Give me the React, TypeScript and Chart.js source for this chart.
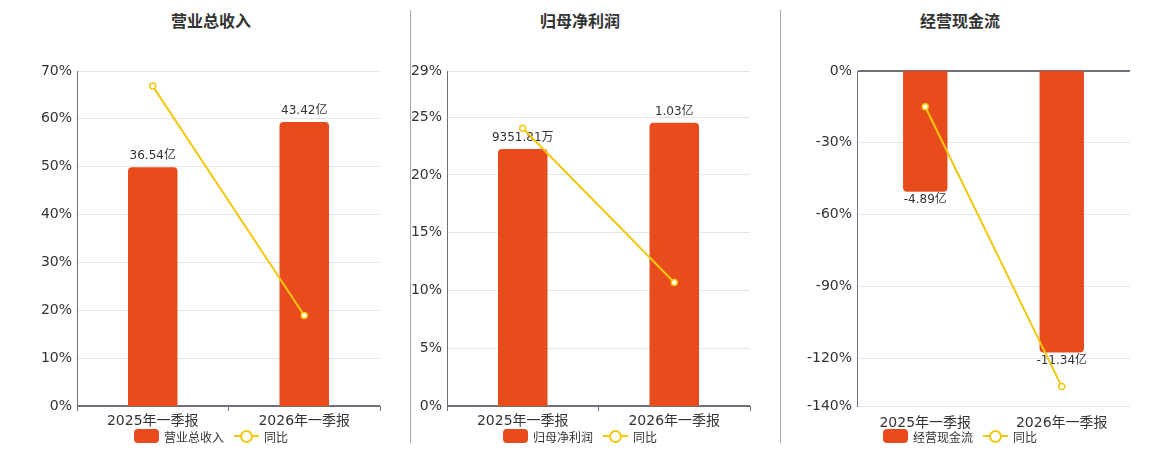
import { useEffect, useRef } from "react";
import { Chart, registerables } from "chart.js";

Chart.register(...registerables);

const FONT = "'DejaVu Sans', 'Noto Sans CJK SC', sans-serif";
const BAR_COLOR = "#E84C1D";
const LINE_COLOR = "#F2C80F";
const AXIS_COLOR = "#6E7079";
const GRID_COLOR = "#E0E6F1";
const TEXT_COLOR = "#333";

Chart.defaults.font.family = FONT;

const categories = ["2025年一季报", "2026年一季报"];

// 营业总收入 (亿)
const revenueValues = [36.54, 43.42];
const revenueLabels = ["36.54亿", "43.42亿"];
const revenueYoy = [66.85, 18.9];
const revenueTicks = [0, 10, 20, 30, 40, 50, 60, 70];

// 归母净利润 (亿)
const profitValues = [0.935181, 1.03];
const profitLabels = ["9351.81万", "1.03亿"];
const profitYoy = [24.05, 10.69];
const profitTicks = [0, 5, 10, 15, 20, 25, 29];

// 经营现金流 (亿)
const cashValues = [-4.89, -11.34];
const cashLabels = ["-4.89亿", "-11.34亿"];
const cashYoy = [-14.95, -131.9];
const cashTicks = [-140, -120, -90, -60, -30, 0];

type PanelProps = {
	title: string;
	seriesName: string;
	values: number[];
	labels: string[];
	yoy: number[];
	ticks: number[];
	barMin: number;
	barMax: number;
	left: number;
	width: number;
	axisWidth: number;
	rightPad: number;
	center: number;
	axisOnTop?: boolean;
};

function Panel(props: PanelProps) {
	const chartRef = useRef<HTMLCanvasElement>(null);
	const chartInstance = useRef<Chart | null>(null);

	useEffect(() => {
		if (!chartRef.current) return;
		if (chartInstance.current) chartInstance.current.destroy();
		const ctx = chartRef.current.getContext("2d");
		if (!ctx) return;

		const barLabelPlugin = {
			id: "barLabels",
			afterDatasetDraw(chart: Chart, args: { index: number }) {
				if (args.index !== 0) return;
				const c = chart.ctx;
				const meta = chart.getDatasetMeta(0);
				c.save();
				c.font = `12px ${FONT}`;
				c.fillStyle = TEXT_COLOR;
				c.textAlign = "center";
				meta.data.forEach((el: any, i: number) => {
					const neg = props.values[i] < 0;
					c.textBaseline = neg ? "top" : "bottom";
					c.fillText(props.labels[i], el.x, neg ? el.y + 1 : el.y - 4);
				});
				c.restore();
			},
		};

		const tickVals = props.ticks;

		chartInstance.current = new Chart(ctx, {
			type: "bar",
			data: {
				labels: categories,
				datasets: [
					{
						type: "bar",
						label: props.seriesName,
						data: props.values,
						yAxisID: "y1",
						backgroundColor: BAR_COLOR,
						borderColor: "rgba(255,255,255,0.2)",
						borderWidth: 1,
						borderRadius: 5,
						borderSkipped: "start",
						barPercentage: 0.34,
						categoryPercentage: 1,
						order: 1,
					},
					{
						type: "line",
						label: "同比",
						data: props.yoy,
						yAxisID: "y",
						borderColor: LINE_COLOR,
						borderWidth: 2,
						pointRadius: 3,
						pointBorderWidth: 1.5,
						pointBackgroundColor: "#fff",
						pointBorderColor: LINE_COLOR,
						order: 0,
					},
				] as any,
			},
			options: {
				responsive: true,
				maintainAspectRatio: false,
				animation: false,
				layout: {
					padding: { left: 0, right: props.rightPad, top: 30, bottom: 0 },
				},
				plugins: {
					legend: { display: false },
					tooltip: { enabled: false },
				},
				scales: {
					x: {
						border: { display: false },
						grid: {
							display: !props.axisOnTop,
							drawOnChartArea: false,
							drawTicks: true,
							tickLength: 5,
							offset: true,
							color: AXIS_COLOR,
						},
						ticks: {
							color: TEXT_COLOR,
							font: { size: 14 },
							padding: props.axisOnTop ? 4 : 2,
							maxRotation: 0,
						},
						afterFit: (scale: any) => {
							scale.height = 35;
						},
					},
					y: {
						min: tickVals[0],
						max: tickVals[tickVals.length - 1],
						border: { display: true, color: AXIS_COLOR, width: 1 },
						grid: {
							drawTicks: false,
							color: (c: any) =>
								c.tick && c.tick.value === 0 ? AXIS_COLOR : GRID_COLOR,
							lineWidth: (c: any) => (c.tick && c.tick.value === 0 ? 2 : 1),
						},
						ticks: {
							color: TEXT_COLOR,
							font: { size: 14 },
							padding: 5,
							callback: (v: any) => `${v}%`,
						},
						afterBuildTicks: (scale: any) => {
							scale.ticks = tickVals.map((v) => ({ value: v }));
						},
						afterFit: (scale: any) => {
							scale.width = props.axisWidth;
						},
					},
					y1: {
						display: false,
						min: props.barMin,
						max: props.barMax,
					},
				},
			},
			plugins: [barLabelPlugin as any],
		});

		return () => {
			if (chartInstance.current) {
				chartInstance.current.destroy();
				chartInstance.current = null;
			}
		};
	}, [props]);

	return (
		<>
			<div
				style={{
					position: "absolute",
					left: props.center - 100,
					top: 12,
					width: 200,
					textAlign: "center",
					fontFamily: FONT,
					fontWeight: "bold",
					fontSize: 16,
					lineHeight: "20px",
					color: TEXT_COLOR,
				}}
			>
				{props.title}
			</div>
			<div
				style={{
					position: "absolute",
					left: props.left,
					top: 41,
					width: props.width,
					height: 400,
				}}
			>
				<canvas ref={chartRef} />
			</div>
			<div
				style={{
					position: "absolute",
					left: props.center - 150,
					top: 428,
					width: 300,
					height: 16,
					display: "flex",
					justifyContent: "center",
					alignItems: "center",
					fontFamily: FONT,
					fontSize: 12,
					color: TEXT_COLOR,
				}}
			>
				<span
					style={{
						display: "inline-block",
						width: 25,
						height: 14,
						borderRadius: 4,
						background: BAR_COLOR,
						marginRight: 5,
					}}
				/>
				<span style={{ marginRight: 10 }}>{props.seriesName}</span>
				<span
					style={{
						position: "relative",
						display: "inline-block",
						width: 25,
						height: 14,
						marginRight: 5,
					}}
				>
					<span
						style={{
							position: "absolute",
							left: 0,
							top: 6,
							width: 25,
							height: 2,
							background: LINE_COLOR,
						}}
					/>
					<span
						style={{
							position: "absolute",
							left: 6,
							top: 1,
							width: 9,
							height: 9,
							borderRadius: "50%",
							border: `2px solid ${LINE_COLOR}`,
							background: "#fff",
						}}
					/>
				</span>
				<span>同比</span>
			</div>
		</>
	);
}

const separatorStyle = (x: number) => ({
	position: "absolute" as const,
	left: x,
	top: 10,
	width: 1,
	height: 433,
	background: "#A8A8A4",
});

export default function App() {
	return (
		<div
			style={{
				position: "absolute",
				left: 0,
				top: 0,
				width: 1160,
				height: 450,
				background: "#fff",
				overflow: "hidden",
			}}
		>
			<Panel
				title="营业总收入"
				seriesName="营业总收入"
				values={revenueValues}
				labels={revenueLabels}
				yoy={revenueYoy}
				ticks={revenueTicks}
				barMin={0}
				barMax={51.05}
				left={0}
				width={410}
				axisWidth={77}
				rightPad={30}
				center={211}
			/>
			<div style={separatorStyle(410)} />
			<Panel
				title="归母净利润"
				seriesName="归母净利润"
				values={profitValues}
				labels={profitLabels}
				yoy={profitYoy}
				ticks={profitTicks}
				barMin={0}
				barMax={1.214}
				left={411}
				width={370}
				axisWidth={36}
				rightPad={31}
				center={580}
			/>
			<div style={separatorStyle(780)} />
			<Panel
				title="经营现金流"
				seriesName="经营现金流"
				values={cashValues}
				labels={cashLabels}
				yoy={cashYoy}
				ticks={cashTicks}
				barMin={-13.45}
				barMax={0}
				left={782}
				width={378}
				axisWidth={75}
				rightPad={30}
				center={960}
				axisOnTop
			/>
		</div>
	);
}
